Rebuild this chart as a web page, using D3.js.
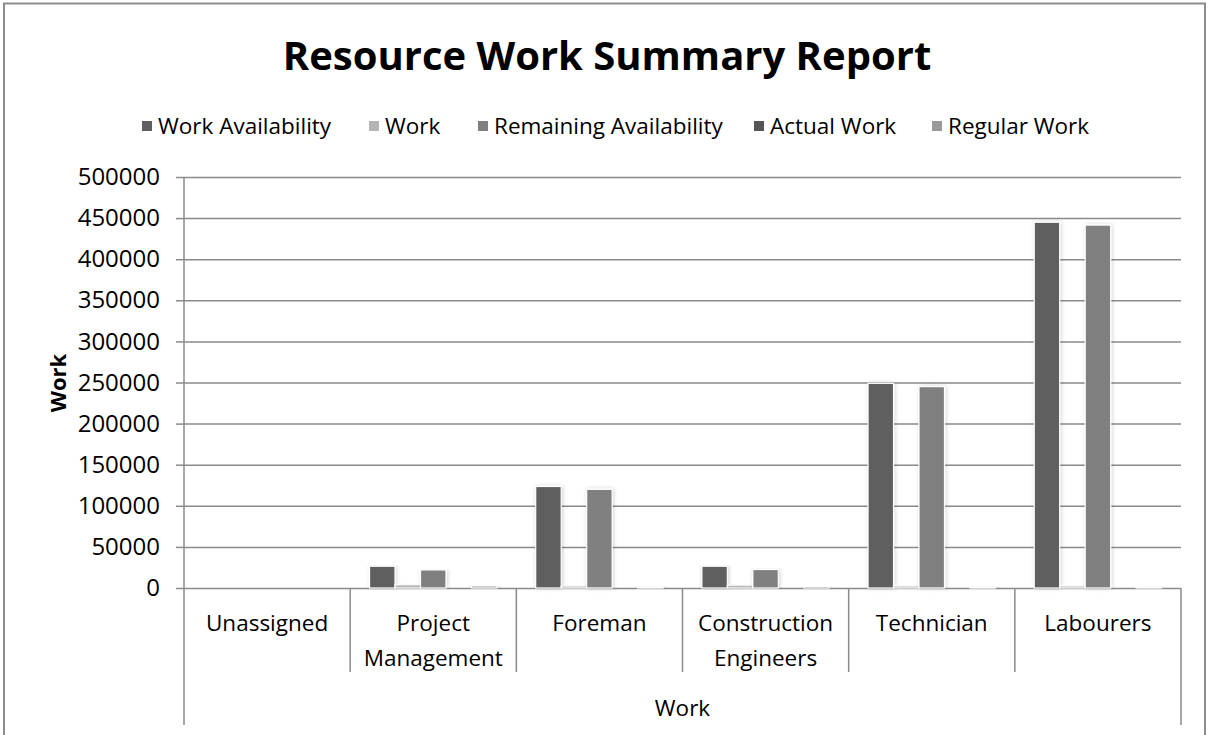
<!DOCTYPE html>
<html>
<head>
<meta charset="utf-8">
<script src="https://cdn.jsdelivr.net/npm/d3@7"></script>
<style>
  html, body { margin: 0; padding: 0; background: #fff; }
  svg { display: block; }
  text { font-family: "Open Sans", "Liberation Sans", sans-serif; fill: #000; }
</style>
</head>
<body>
<svg id="chart" width="1208" height="735"></svg>
<script>
// ---- data ----
const categories = ["Unassigned", "Project Management", "Foreman", "Construction Engineers", "Technician", "Labourers"];
const categoryLines = [["Unassigned"], ["Project", "Management"], ["Foreman"], ["Construction", "Engineers"], ["Technician"], ["Labourers"]];
const seriesNames = ["Work Availability", "Work", "Remaining Availability", "Actual Work", "Regular Work"];
const seriesColors = ["#5f5f5f", "#b5b5b5", "#808080", "#565656", "#999999"];
const workAvailability = [0, 26500, 123500, 26500, 249000, 445000];
const work = [0, 4000, 2500, 3500, 2500, 2500];
const remainingAvailability = [0, 22000, 120000, 22500, 245000, 441500];
const actualWork = [0, 0, 0, 0, 0, 0];
const regularWork = [0, 2500, 1500, 2000, 1500, 1500];
const yTicks = [0, 50000, 100000, 150000, 200000, 250000, 300000, 350000, 400000, 450000, 500000];
const title = "Resource Work Summary Report";
const yTitle = "Work";
const xTitle = "Work";

const seriesValues = [workAvailability, work, remainingAvailability, actualWork, regularWork];

const svg = d3.select("#chart");
const plot = { left: 184, right: 1181, top: 177, bottom: 588 };
const labelSize = "22.5px";

// outer border
svg.append("rect").attr("x", 4).attr("y", 3.5).attr("width", 1201).attr("height", 740)
  .attr("fill", "#fff").attr("stroke", "#8c8c8c").attr("stroke-width", 2);

// shadow filter
const defs = svg.append("defs");
const f = defs.append("filter").attr("id", "shadow").attr("x", "-30%").attr("y", "-5%").attr("width", "160%").attr("height", "110%");
f.append("feDropShadow").attr("dx", 1).attr("dy", 0).attr("stdDeviation", 2).attr("flood-color", "#000").attr("flood-opacity", 0.18);

// title
svg.append("text").attr("x", 607).attr("y", 70).attr("text-anchor", "middle")
  .style("font-size", "40px").style("font-weight", "bold").text(title);

// scales
const y = d3.scaleLinear().domain([0, 500000]).range([plot.bottom, plot.top]);
const x0 = d3.scaleBand().domain(categories).range([plot.left, plot.right]).paddingInner(0).paddingOuter(0);
const x1 = d3.scaleBand().domain(seriesNames).range([0, x0.bandwidth()]).paddingInner(0).paddingOuter(0.76);

// gridlines + y axis
const yAxis = d3.axisLeft(y).tickValues(yTicks).tickSize(8).tickPadding(16).tickFormat(d3.format("d"));
const gy = svg.append("g").attr("transform", `translate(${plot.left},0)`).call(yAxis);
gy.select(".domain").remove();
gy.selectAll(".tick line").attr("stroke", "#8a8a8a").attr("stroke-width", 1.5);
gy.selectAll(".tick text").style("font-size", "24px").style("font-family", "'Open Sans', sans-serif").attr("fill", "#000");
gy.selectAll(".tick").append("line").attr("class", "grid")
  .attr("x1", 0).attr("x2", plot.right - plot.left).attr("stroke", "#8a8a8a").attr("stroke-width", 1.5);

// vertical axis lines
svg.append("line").attr("x1", plot.left).attr("x2", plot.left).attr("y1", plot.top).attr("y2", 725)
  .attr("stroke", "#8a8a8a").attr("stroke-width", 1.5);
svg.append("line").attr("x1", plot.right).attr("x2", plot.right).attr("y1", plot.bottom).attr("y2", 725)
  .attr("stroke", "#8a8a8a").attr("stroke-width", 1.5);

// category dividers
svg.append("g").selectAll("line").data(categories.slice(1)).join("line")
  .attr("x1", d => x0(d)).attr("x2", d => x0(d))
  .attr("y1", plot.bottom).attr("y2", 672)
  .attr("stroke", "#8a8a8a").attr("stroke-width", 1.5);

// bars
const barData = [];
categories.forEach((c, i) => {
  seriesNames.forEach((s, j) => {
    barData.push({ cat: c, series: s, value: seriesValues[j][i], color: seriesColors[j] });
  });
});
svg.append("g").selectAll("rect").data(barData.filter(d => d.value > 0)).join("rect")
  .attr("x", d => x0(d.cat) + x1(d.series))
  .attr("y", d => y(d.value))
  .attr("width", x1.bandwidth())
  .attr("height", d => y(0) - y(d.value))
  .attr("fill", d => d.color)
  .attr("stroke", "#fff").attr("stroke-width", 1.2)
  .attr("filter", "url(#shadow)");

// category labels
const catG = svg.append("g");
categories.forEach((c, i) => {
  const cx = x0(c) + x0.bandwidth() / 2;
  const t = catG.append("text").attr("text-anchor", "middle").style("font-size", labelSize);
  categoryLines[i].forEach((ln, k) => {
    t.append("tspan").attr("x", cx).attr("y", 631 + k * 35).text(ln);
  });
});

// x title
svg.append("text").attr("x", (plot.left + plot.right) / 2).attr("y", 716).attr("text-anchor", "middle")
  .style("font-size", labelSize).text(xTitle);

// y title
svg.append("text").attr("transform", "translate(66,383) rotate(-90)").attr("text-anchor", "middle")
  .style("font-size", "22px").style("font-weight", "bold").text(yTitle);

// legend
const legendTx = [158, 385, 494, 770, 948];
const lg = svg.append("g");
seriesNames.forEach((s, j) => {
  lg.append("rect").attr("x", legendTx[j] - 16).attr("y", 121).attr("width", 10).attr("height", 10).attr("fill", seriesColors[j]);
  lg.append("text").attr("x", legendTx[j]).attr("y", 134).style("font-size", labelSize).text(s);
});
</script>
</body>
</html>
